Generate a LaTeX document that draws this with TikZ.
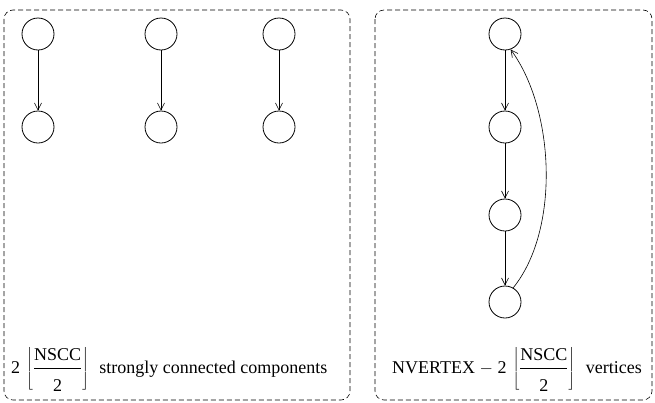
\documentclass[tikz,border=0pt]{standalone}
\usepackage{fontspec}
\setmainfont{Liberation Serif}
\usetikzlibrary{arrows.meta}
\newcommand{\myfr}{\left\lfloor\displaystyle\frac{\mbox{NSCC}\rule[-7pt]{0pt}{0pt}}{\rule{0pt}{21pt}\mbox{2}}\right\rfloor}
\begin{document}
\begin{tikzpicture}[x=1pt,y=-1pt,
  vert/.style={circle,draw,line width=0.8pt,minimum size=32pt,inner sep=0pt},
  edge/.style={line width=0.6pt,-{Straight Barb[length=7pt,width=7pt]}},
  panel/.style={draw,line width=0.6pt,rounded corners=9pt,dash pattern=on 5pt off 3pt},
  lab/.style={anchor=base west,inner sep=0pt,font=\fontsize{18}{21}\selectfont}]
\useasboundingbox (0,0) rectangle (655,402);
\draw[panel] (4,10) rectangle (350,400);
\draw[panel] (375,10) rectangle (652,400);
\node[vert] (a1) at (38,34) {};
\node[vert] (b1) at (38,127) {};
\node[vert] (a2) at (161,34) {};
\node[vert] (b2) at (161,127) {};
\node[vert] (a3) at (279,34) {};
\node[vert] (b3) at (279,127) {};
\draw[edge] (a1) -- (b1);
\draw[edge] (a2) -- (b2);
\draw[edge] (a3) -- (b3);
\node[vert] (c1) at (505,34) {};
\node[vert] (c2) at (505,127) {};
\node[vert] (c3) at (505,215) {};
\node[vert] (c4) at (505,302) {};
\draw[edge] (c1) -- (c2);
\draw[edge] (c2) -- (c3);
\draw[edge] (c3) -- (c4);
\draw[edge] (c4.60) .. controls (560,230) and (555,110) .. (c1.-70);
\node[lab] (t1) at (11,373) {2\,\,$\myfr$\,\, strongly connected components};
\node[lab] (t2) at (392,373) {NVERTEX $-$ 2\,\,$\myfr$\,\, vertices};
\end{tikzpicture}
\end{document}
